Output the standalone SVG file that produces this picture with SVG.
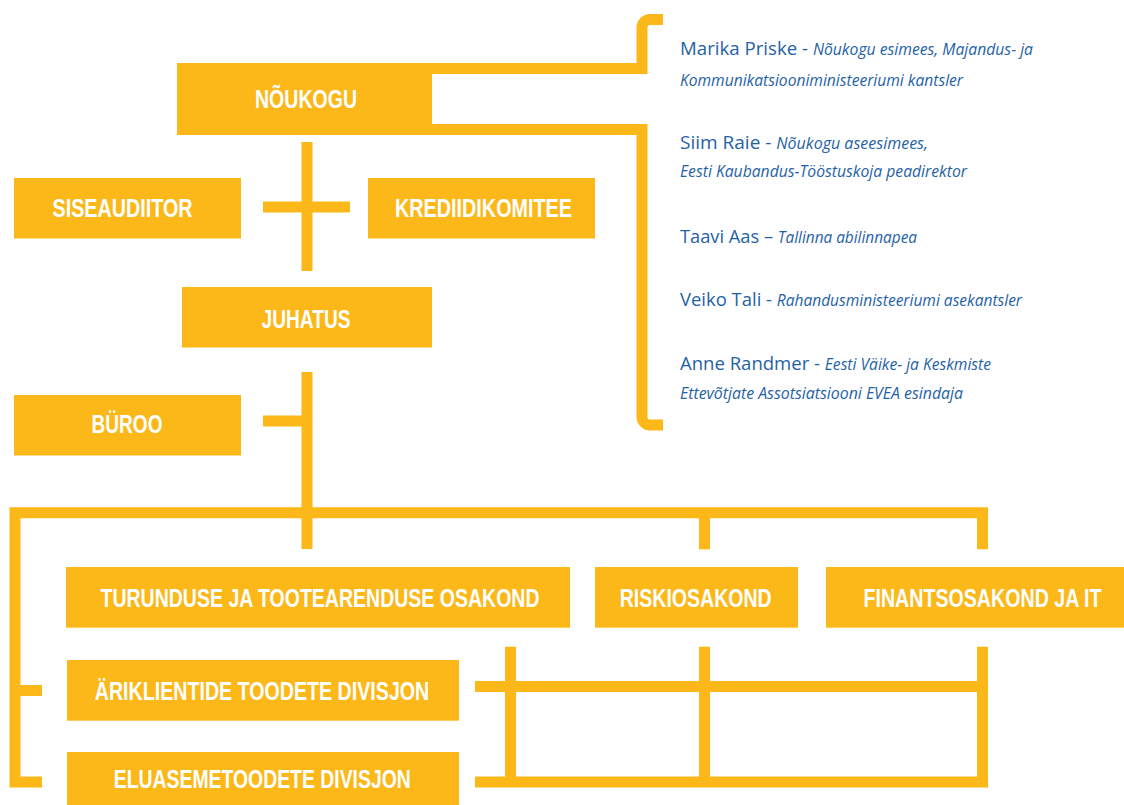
<svg xmlns="http://www.w3.org/2000/svg" width="1124" height="805" viewBox="0 0 1124 805">
<style>
.box{fill:#FBB818}
.lbl{font-family:"Liberation Sans",Arial,sans-serif;font-weight:bold;font-size:26px;fill:#ffffff;text-anchor:middle}
.ln{fill:none;stroke:#FBB818;stroke-width:11;stroke-linecap:butt;stroke-linejoin:miter}
.mem{font-family:"Open Sans","Liberation Sans",sans-serif;font-weight:400;fill:#1f62a6}
.nm{font-size:19px;font-style:normal}
.ds{font-size:16px;font-style:italic}
</style>
<rect width="1124" height="805" fill="#ffffff"/>
<g id="connectors">
<path class="ln" d="M420 68.5 H642 V27.5 A8 8 0 0 1 650 19.5 H663"/>
<path class="ln" d="M420 129.5 H642 V417 A8 8 0 0 0 650 425 H663"/>
<path class="ln" d="M307 142 V271"/>
<path class="ln" d="M263 207 H350"/>
<path class="ln" d="M307 372 V549"/>
<path class="ln" d="M263 421 H307"/>
<path class="ln" d="M42 782 H15 V512.8 H982.5 V549.3"/>
<path class="ln" d="M15 690.5 H42"/>
<path class="ln" d="M704.5 512.8 V549.3"/>
<path class="ln" d="M475 782 H982.5 V646.7"/>
<path class="ln" d="M475 686.5 H982.5"/>
<path class="ln" d="M510.5 646.7 V782"/>
<path class="ln" d="M704.5 646.7 V782"/>
</g>
<g id="noukogu"><rect class="box" x="177" y="63" width="255" height="72"/><text class="lbl" x="306" y="108" textLength="102" lengthAdjust="spacingAndGlyphs">NÕUKOGU</text></g>
<g id="siseauditor"><rect class="box" x="14" y="178" width="227" height="60.5"/><text class="lbl" x="122.5" y="217" textLength="140" lengthAdjust="spacingAndGlyphs">SISEAUDIITOR</text></g>
<g id="krediidikomitee"><rect class="box" x="368" y="178" width="227" height="60.5"/><text class="lbl" x="483.5" y="217" textLength="177" lengthAdjust="spacingAndGlyphs">KREDIIDIKOMITEE</text></g>
<g id="juhatus"><rect class="box" x="182" y="287" width="250" height="60.5"/><text class="lbl" x="306" y="327.5" textLength="89" lengthAdjust="spacingAndGlyphs">JUHATUS</text></g>
<g id="buroo"><rect class="box" x="14" y="395" width="227" height="60.5"/><text class="lbl" x="127" y="432.7" textLength="71" lengthAdjust="spacingAndGlyphs">BÜROO</text></g>
<g id="turundus"><rect class="box" x="66" y="567" width="504" height="60.7"/><text class="lbl" x="320" y="606.7" textLength="439" lengthAdjust="spacingAndGlyphs">TURUNDUSE JA TOOTEARENDUSE OSAKOND</text></g>
<g id="riskiosakond"><rect class="box" x="595" y="567" width="203" height="60.7"/><text class="lbl" x="695.7" y="606.7" textLength="152" lengthAdjust="spacingAndGlyphs">RISKIOSAKOND</text></g>
<g id="finantsosakond"><rect class="box" x="826" y="567" width="298" height="60.7"/><text class="lbl" x="982.5" y="606.7" textLength="238" lengthAdjust="spacingAndGlyphs">FINANTSOSAKOND JA IT</text></g>
<g id="ariklientide"><rect class="box" x="67" y="660" width="392" height="60.7"/><text class="lbl" x="262" y="700" textLength="334.5" lengthAdjust="spacingAndGlyphs">ÄRIKLIENTIDE TOODETE DIVISJON</text></g>
<g id="eluaseme"><rect class="box" x="67" y="752" width="392" height="53"/><text class="lbl" x="262.3" y="788" textLength="297" lengthAdjust="spacingAndGlyphs">ELUASEMETOODETE DIVISJON</text></g>
<g id="noukogu-liikmed">
<text class="mem" x="680" y="55" textLength="353" lengthAdjust="spacingAndGlyphs"><tspan class="nm">Marika Priske - </tspan><tspan class="ds">Nõukogu esimees, Majandus- ja</tspan></text>
<text class="mem ds" x="680" y="86" textLength="283" lengthAdjust="spacingAndGlyphs">Kommunikatsiooniministeeriumi kantsler</text>
<text class="mem" x="680" y="148.5" textLength="248" lengthAdjust="spacingAndGlyphs"><tspan class="nm">Siim Raie - </tspan><tspan class="ds">Nõukogu aseesimees,</tspan></text>
<text class="mem ds" x="680" y="177" textLength="287" lengthAdjust="spacingAndGlyphs">Eesti Kaubandus-Tööstuskoja peadirektor</text>
<text class="mem" x="680" y="243.3" textLength="237" lengthAdjust="spacingAndGlyphs"><tspan class="nm">Taavi Aas – </tspan><tspan class="ds">Tallinna abilinnapea</tspan></text>
<text class="mem" x="680" y="306" textLength="342" lengthAdjust="spacingAndGlyphs"><tspan class="nm">Veiko Tali - </tspan><tspan class="ds">Rahandusministeeriumi asekantsler</tspan></text>
<text class="mem" x="680" y="370" textLength="311" lengthAdjust="spacingAndGlyphs"><tspan class="nm">Anne Randmer - </tspan><tspan class="ds">Eesti Väike- ja Keskmiste</tspan></text>
<text class="mem ds" x="680" y="399.3" textLength="283" lengthAdjust="spacingAndGlyphs">Ettevõtjate Assotsiatsiooni EVEA esindaja</text>
</g>
</svg>
